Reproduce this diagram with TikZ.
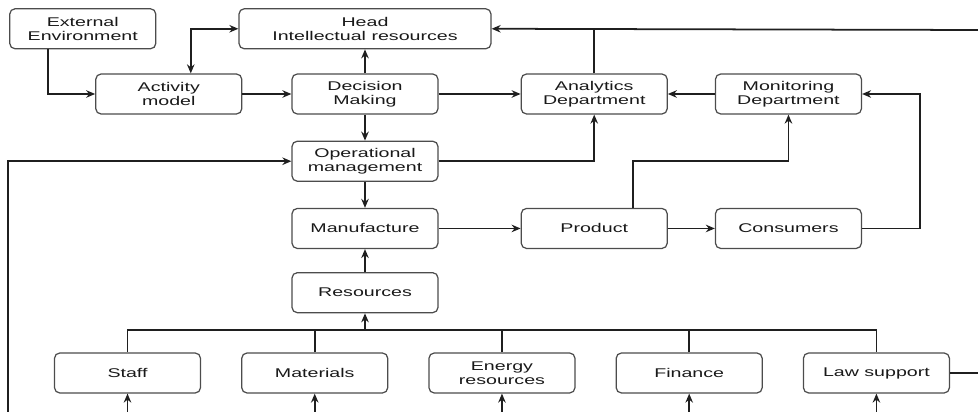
\documentclass[tikz,border=0pt]{standalone}
\usepackage{fontspec}
\setmainfont{Liberation Sans}[FakeStretch=1.55]
\usepackage{tikz}
\usetikzlibrary{positioning, arrows.meta}

\begin{document}
\begin{tikzpicture}[
  block/.style={draw=black!70, line width=0.7pt, rectangle, rounded corners=3pt, minimum height=0.8cm, minimum width=2.92cm, inner sep=1pt, align=center, text=black!90, font=\fontsize{7.2}{8}\selectfont},
  arrow/.style={-{Stealth[length=1.8mm,width=1.5mm]}, line width=1pt, draw=black!88},
  dblarrow/.style={{Stealth[length=1.8mm,width=1.5mm]}-{Stealth[length=1.8mm,width=1.5mm]}, line width=1pt, draw=black!88},
  link/.style={line width=1pt, draw=black!88}
]
\useasboundingbox (0,0) rectangle (19.56,-8.24);

\node[block] (decision) at (7.3,-1.88) {Decision\\Making};
\node[block, above=0.48cm of decision, minimum width=5.04cm] (head) {Head\\Intellectual resources};
\node[block, left=1.64cm of head] (ext) {External\\Environment};
\node[block, left=0.98cm of decision] (act) {Activity\\model};
\node[block, right=1.64cm of decision] (ana) {Analytics\\Department};
\node[block, right=0.94cm of ana] (mon) {Monitoring\\Department};
\node[block, below=0.52cm of decision] (oper) {Operational\\management};
\node[block, below=0.52cm of oper] (manuf) {Manufacture};
\node[block, right=1.64cm of manuf] (prod) {Product};
\node[block, right=0.94cm of prod] (cons) {Consumers};
\node[block, below=0.46cm of manuf] (res) {Resources};

\node[block] (staff) at (2.55,-7.46) {Staff};
\node[block, right=0.8cm of staff] (mat) {Materials};
\node[block, right=0.8cm of mat] (energy) {Energy\\resources};
\node[block, right=0.8cm of energy] (fin) {Finance};
\node[block, right=0.8cm of fin] (law) {Law support};

\coordinate (hin) at (19.56,-0.6);
\coordinate (lin) at (0.16,-8.24);
\coordinate (lout) at (19.56,-7.46);
\coordinate (bus) at ([yshift=0.44cm]staff.north);

\draw[arrow] ([xshift=-0.7cm]ext.south) |- (act.west);
\draw[arrow] (act) -- (decision);
\draw[dblarrow] ([xshift=0.44cm]act.north) |- (head.west);
\draw[arrow] (decision) -- (head);
\draw[arrow] (decision) -- (ana);
\draw[arrow] (mon) -- (ana);
\draw[arrow] (hin) -- (head.east);
\draw[link] (ana.north) -- (ana.north |- head.east);
\draw[arrow] (decision) -- (oper);
\draw[arrow] (oper.east) -| (ana.south);
\draw[arrow] (lin) |- (oper.west);
\draw[arrow] (oper) -- (manuf);
\draw[arrow] (manuf) -- (prod);
\draw[arrow] (prod) -- (cons);
\draw[arrow] ([xshift=0.78cm]prod.north) |- (oper.east -| mon.south) -- (mon.south);
\draw[arrow] (cons.east) -- ++(1.16cm,0) |- (mon.east);
\draw[arrow] (res) -- (manuf);

\draw[link] (staff.north) |- (law.north |- bus) -- (law.north);
\foreach \n in {mat, energy, fin}
  \draw[link] (\n.north) -- (\n.north |- bus);
\draw[arrow] (res.south |- bus) -- (res.south);
\foreach \n in {staff, mat, energy, fin, law}
  \draw[arrow] (\n.south |- lin) -- (\n.south);
\draw[link] (law.east) -- (lout);

\end{tikzpicture}
\end{document}
